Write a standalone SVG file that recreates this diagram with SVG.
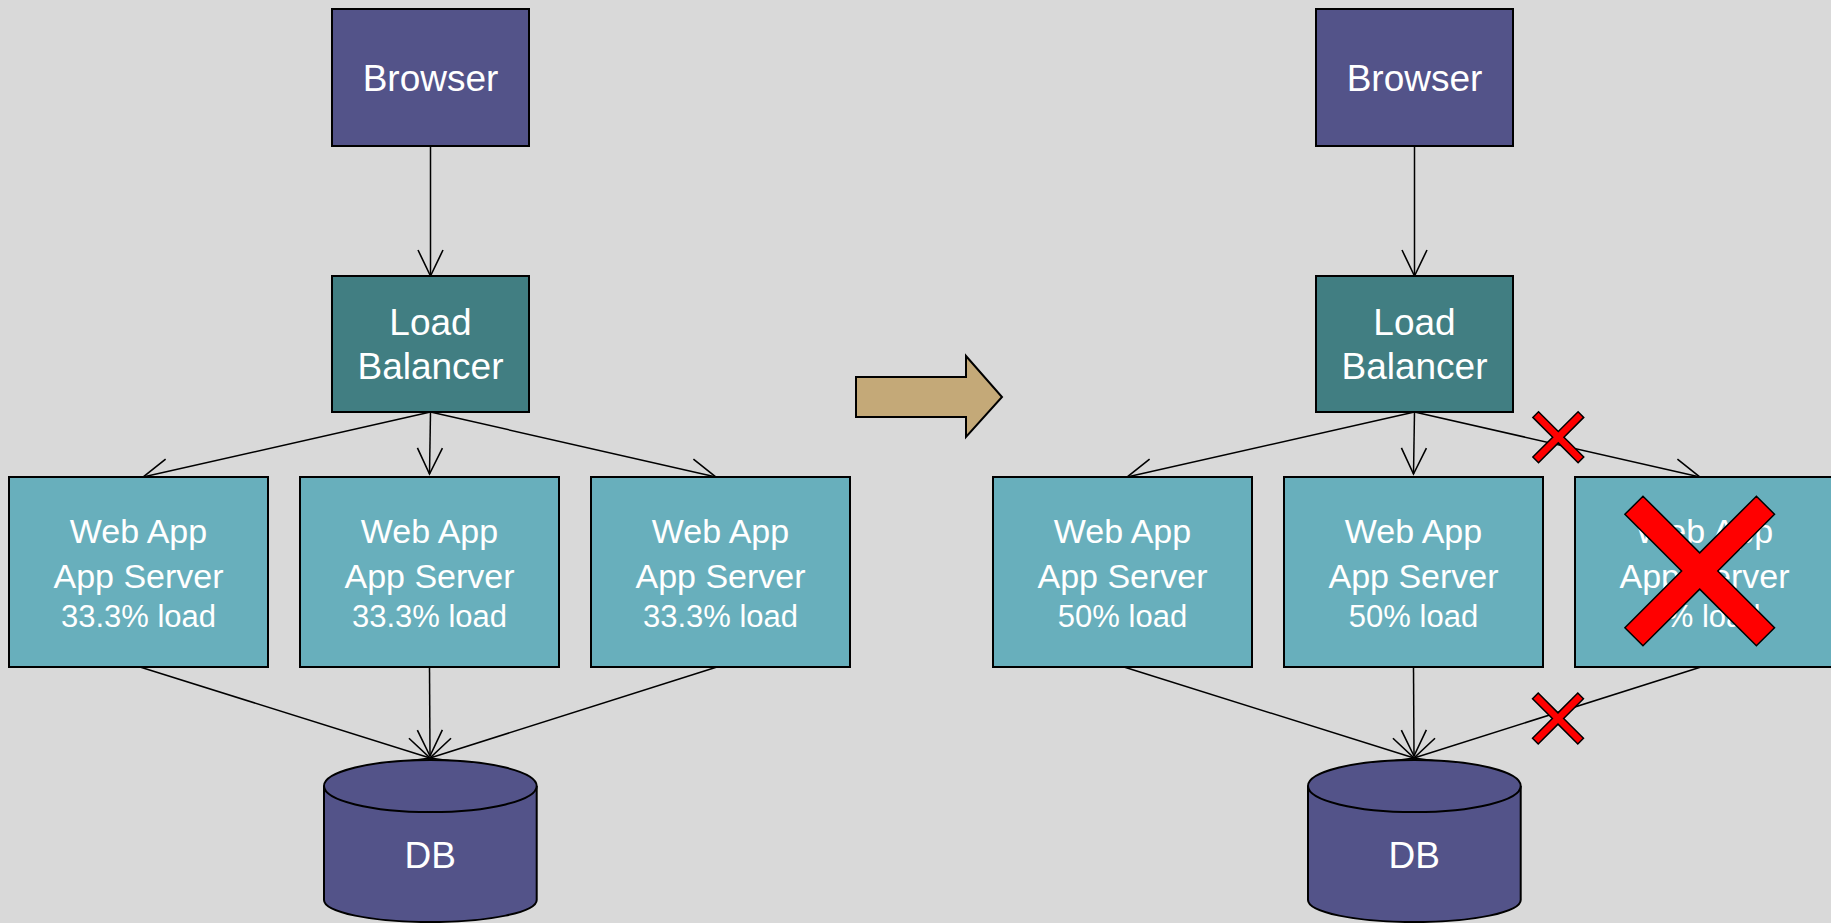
<svg xmlns="http://www.w3.org/2000/svg" width="1831" height="923" viewBox="0 0 1831 923">
<defs>
<style>
.bg{fill:#d9d9d9}
.browser{fill:#535389;stroke:#000;stroke-width:2}
.lb{fill:#417e82;stroke:#000;stroke-width:2}
.wa{fill:#68afbc;stroke:#000;stroke-width:2}
.db{fill:#535389;stroke:#000;stroke-width:2}
.t{font-family:"Liberation Sans",Arial,sans-serif;fill:#fff;text-anchor:middle}
.big{font-size:37px}
.mid{font-size:34px}
.sm{font-size:31px}
.conn line{stroke:#000;stroke-width:1.5;fill:none;marker-end:url(#ah)}
.x{fill:#ff0000;stroke:#000;stroke-width:1.5;stroke-linejoin:miter}
</style>
<marker id="ah" markerUnits="userSpaceOnUse" viewBox="-30 -16 34 32" markerWidth="34" markerHeight="32" refX="0" refY="0" orient="auto">
<path d="M-26,-12.5 L0,0 L-26,12.5" fill="none" stroke="#000" stroke-width="1.6"/>
</marker>
</defs>
<rect class="bg" x="0" y="0" width="1831" height="923"/>

<g id="connectors" class="conn">
<line x1="430.5" y1="146" x2="430.5" y2="276"/>
<line x1="430.5" y1="412" x2="143" y2="477"/>
<line x1="430.5" y1="412" x2="429.5" y2="474"/>
<line x1="430.5" y1="412" x2="716" y2="477"/>
<line x1="140" y1="667" x2="430" y2="758"/>
<line x1="429.5" y1="667" x2="430" y2="756"/>
<line x1="717" y1="667" x2="430" y2="758"/>
<line x1="1414.5" y1="146" x2="1414.5" y2="276"/>
<line x1="1414.5" y1="412" x2="1127" y2="477"/>
<line x1="1414.5" y1="412" x2="1413.5" y2="474"/>
<line x1="1414.5" y1="412" x2="1700" y2="477"/>
<line x1="1124" y1="667" x2="1414" y2="758"/>
<line x1="1413.5" y1="667" x2="1414" y2="756"/>
<line x1="1701" y1="667" x2="1414" y2="758"/>
</g>

<g id="browser-left">
<rect class="browser" x="332" y="9" width="197" height="137"/>
<text class="t big" x="430.5" y="91">Browser</text>
</g>
<g id="lb-left">
<rect class="lb" x="332" y="276" width="197" height="136"/>
<text class="t big" x="430.5" y="335">Load</text>
<text class="t big" x="430.5" y="379">Balancer</text>
</g>
<g id="wa1-left">
<rect class="wa" x="9" y="477" width="259" height="190"/>
<text class="t mid" x="138.5" y="543">Web App</text>
<text class="t mid" x="138.5" y="588">App Server</text>
<text class="t sm" x="138.5" y="627">33.3% load</text>
</g>
<g id="wa2-left">
<rect class="wa" x="300" y="477" width="259" height="190"/>
<text class="t mid" x="429.5" y="543">Web App</text>
<text class="t mid" x="429.5" y="588">App Server</text>
<text class="t sm" x="429.5" y="627">33.3% load</text>
</g>
<g id="wa3-left">
<rect class="wa" x="591" y="477" width="259" height="190"/>
<text class="t mid" x="720.5" y="543">Web App</text>
<text class="t mid" x="720.5" y="588">App Server</text>
<text class="t sm" x="720.5" y="627">33.3% load</text>
</g>
<g id="db-left">
<path class="db" d="M324,786 L324,900 A106,22 0 0 0 536.7,900 L536.7,786 A106,26 0 0 0 324,786 Z"/>
<path class="db" d="M324,786 A106,26 0 0 0 536.7,786" fill="none"/>
<text class="t big" x="430.3" y="868">DB</text>
</g>

<g id="transition-arrow">
<polygon points="856,377 966,377 966,356 1002,397 966,437 966,417 856,417" fill="#c4a978" stroke="#000" stroke-width="2"/>
</g>

<g id="browser-right">
<rect class="browser" x="1316" y="9" width="197" height="137"/>
<text class="t big" x="1414.5" y="91">Browser</text>
</g>
<g id="lb-right">
<rect class="lb" x="1316" y="276" width="197" height="136"/>
<text class="t big" x="1414.5" y="335">Load</text>
<text class="t big" x="1414.5" y="379">Balancer</text>
</g>
<g id="wa1-right">
<rect class="wa" x="993" y="477" width="259" height="190"/>
<text class="t mid" x="1122.5" y="543">Web App</text>
<text class="t mid" x="1122.5" y="588">App Server</text>
<text class="t sm" x="1122.5" y="627">50% load</text>
</g>
<g id="wa2-right">
<rect class="wa" x="1284" y="477" width="259" height="190"/>
<text class="t mid" x="1413.5" y="543">Web App</text>
<text class="t mid" x="1413.5" y="588">App Server</text>
<text class="t sm" x="1413.5" y="627">50% load</text>
</g>
<g id="wa3-right">
<rect class="wa" x="1575" y="477" width="259" height="190"/>
<text class="t mid" x="1704.5" y="543">Web App</text>
<text class="t mid" x="1704.5" y="588">App Server</text>
<text class="t sm" x="1704.5" y="627">0% load</text>
</g>
<g id="db-right">
<path class="db" d="M1308,786 L1308,900 A106,22 0 0 0 1520.7,900 L1520.7,786 A106,26 0 0 0 1308,786 Z"/>
<path class="db" d="M1308,786 A106,26 0 0 0 1520.7,786" fill="none"/>
<text class="t big" x="1414.3" y="868">DB</text>
</g>

<g id="failure-marks">
<polygon class="x" transform="translate(1558.3,437.2) rotate(45)" points="4,-32 4,-4 32,-4 32,4 4,4 4,32 -4,32 -4,4 -32,4 -32,-4 -4,-4 -4,-32"/>
<polygon class="x" transform="translate(1558,718.5) rotate(45)" points="4,-32 4,-4 32,-4 32,4 4,4 4,32 -4,32 -4,4 -32,4 -32,-4 -4,-4 -4,-32"/>
<polygon class="x" transform="translate(1699.7,571) rotate(45)" points="12.8,-93 12.8,-12.8 93,-12.8 93,12.8 12.8,12.8 12.8,93 -12.8,93 -12.8,12.8 -93,12.8 -93,-12.8 -12.8,-12.8 -12.8,-93"/>
</g>
</svg>
